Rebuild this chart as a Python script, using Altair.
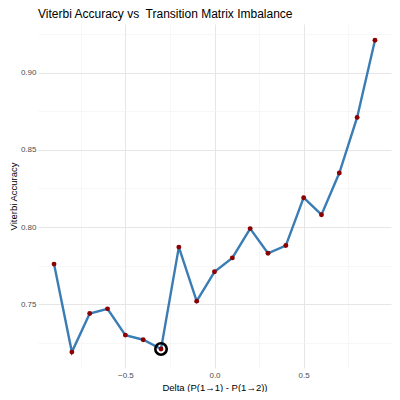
import altair as alt
import pandas as pd

delta = [-0.9, -0.8, -0.7, -0.6, -0.5, -0.4, -0.3, -0.2, -0.1, 0.0,
         0.1, 0.2, 0.3, 0.4, 0.5, 0.6, 0.7, 0.8, 0.9]
accuracy = [0.776, 0.719, 0.744, 0.747, 0.730, 0.727, 0.721, 0.787, 0.752, 0.771,
            0.780, 0.799, 0.783, 0.788, 0.819, 0.808, 0.835, 0.871, 0.921]
highlight_delta = -0.3

x_ticks = [-0.75, -0.5, -0.25, 0.0, 0.25, 0.5, 0.75]
y_ticks = [0.725, 0.75, 0.775, 0.80, 0.825, 0.85, 0.875, 0.90, 0.925]

df = pd.DataFrame({"delta": delta, "acc": accuracy})

FONT = "Liberation Sans"

x_major = "abs(datum.value*2 - round(datum.value*2)) < 1e-6"
y_major = "abs(datum.value*20 - round(datum.value*20)) < 1e-6"

x_enc = alt.X(
    "delta:Q",
    scale=alt.Scale(domain=[-0.99, 0.99], nice=False, zero=False),
    axis=alt.Axis(
        values=x_ticks,
        title="Delta (P(1\u21921) - P(1\u21922))",
        labelExpr=f"{x_major} ? format(datum.value, '.1f') : ''",
        gridColor={"condition": {"test": x_major, "value": "#e6e6e6"}, "value": "#f2f2f2"},
        gridWidth={"condition": {"test": x_major, "value": 1.0}, "value": 0.6},
        labelPadding=3,
        titlePadding=3,
    ),
)
y_enc = alt.Y(
    "acc:Q",
    scale=alt.Scale(domain=[0.7087, 0.9315], nice=False, zero=False),
    axis=alt.Axis(
        values=y_ticks,
        title="Viterbi Accuracy",
        labelExpr=f"{y_major} ? format(datum.value, '.2f') : ''",
        gridColor={"condition": {"test": y_major, "value": "#e6e6e6"}, "value": "#f2f2f2"},
        gridWidth={"condition": {"test": y_major, "value": 1.0}, "value": 0.6},
        labelPadding=2,
        titlePadding=2,
    ),
)

base = alt.Chart(df).encode(x=x_enc, y=y_enc)

line = base.mark_line(color="#3a7db5", strokeWidth=2.4)
pts = base.mark_circle(color="#8b0000", size=24, opacity=1)
hl = base.transform_filter(f"abs(datum.delta - ({highlight_delta})) < 1e-6").mark_point(
    shape="circle", filled=False, color="black", size=130, strokeWidth=2.6, opacity=1
)

chart = (
    alt.layer(line, pts, hl)
    .properties(
        width=384,
        height=384,
        autosize=alt.AutoSizeParams(type="fit", contains="padding"),
        padding={"left": 0, "top": 0, "right": 1, "bottom": 0},
        title=alt.TitleParams(
            "Viterbi Accuracy vs\u00a0 Transition Matrix Imbalance",
            anchor="start",
            frame="group",
            fontSize=12,
            fontWeight="normal",
            font=FONT,
            color="black",
            offset=3,
        ),
    )
    .configure_view(stroke=None)
    .configure_axis(
        domain=False,
        ticks=False,
        labelFont=FONT,
        titleFont=FONT,
        labelFontSize=8,
        labelColor="#4d4d4d",
        titleFontSize=9.5,
        titleFontWeight="normal",
        titleColor="black",
    )
)

chart.save("out.html", embed_options={"renderer": "svg", "actions": False})
